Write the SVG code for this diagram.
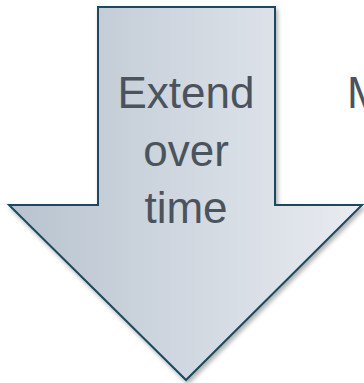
<svg xmlns="http://www.w3.org/2000/svg" width="364" height="383" viewBox="0 0 364 383">
<defs>
<linearGradient id="g" x1="0" y1="0" x2="1" y2="0">
<stop offset="0" stop-color="#b8c3cf"/>
<stop offset="1" stop-color="#e9ecf1"/>
</linearGradient>
<filter id="sh" x="-10%" y="-10%" width="130%" height="130%">
<feDropShadow dx="2" dy="3" stdDeviation="2" flood-color="#000" flood-opacity="0.3"/>
</filter>
<style>
.t{font-family:"Liberation Sans",Arial,sans-serif;font-size:44px;fill:#4b535c;text-anchor:middle}
</style>
</defs>
<g id="arrow">
<path d="M98,7 H275 V205 H362 L186,380 L9,205 H98 Z" fill="url(#g)" stroke="#1a4a60" stroke-width="2" stroke-linejoin="miter" filter="url(#sh)"/>
<text class="t" x="186" y="108">Extend</text>
<text class="t" x="186" y="166">over</text>
<text class="t" x="186" y="223">time</text>
</g>
<g id="label">
<text class="t" x="347" y="108" style="text-anchor:start">M</text>
</g>
<g id="connectors"/>
</svg>
